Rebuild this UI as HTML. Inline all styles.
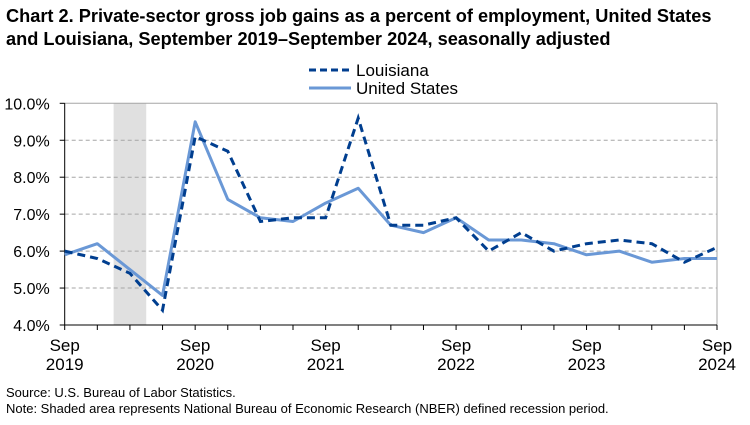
<!DOCTYPE html>
<html><head><meta charset="utf-8"><style>
body{margin:0;background:#fff;font-family:"Liberation Sans",Arial,sans-serif;}
svg text{font-family:"Liberation Sans",Arial,sans-serif;}
</style></head><body>
<svg width="750" height="420" xmlns="http://www.w3.org/2000/svg">
<text x="6" y="22" font-size="18.2" font-weight="bold">Chart 2. Private-sector gross job gains as a percent of employment, United States</text>
<text x="6" y="45" font-size="18.2" font-weight="bold">and Louisiana, September 2019–September 2024, seasonally adjusted</text>
<g>
<line x1="309" y1="70" x2="351" y2="70" stroke="#003e8f" stroke-width="3" stroke-dasharray="7,4"/>
<text x="356" y="76" font-size="17">Louisiana</text>
<line x1="309" y1="88" x2="351" y2="88" stroke="#6a98d6" stroke-width="3"/>
<text x="356" y="94" font-size="17">United States</text>
</g>
<g id="plot"></g>
<text x="6" y="397" font-size="13">Source: U.S. Bureau of Labor Statistics.</text>
<text x="6" y="413" font-size="13">Note: Shaded area represents National Bureau of Economic Research (NBER) defined recession period.</text>
</svg>
<script>
const usValues=[5.9,6.2,5.5,4.8,9.5,7.4,6.9,6.8,7.3,7.7,6.7,6.5,6.9,6.3,6.3,6.2,5.9,6.0,5.7,5.8,5.8];
const laValues=[6.0,5.8,5.4,4.4,9.1,8.7,6.8,6.9,6.9,9.6,6.7,6.7,6.9,6.0,6.5,6.0,6.2,6.3,6.2,5.7,6.1];
const yTicks=[4,5,6,7,8,9,10];
const xLabels=[[0,"Sep","2019"],[4,"Sep","2020"],[8,"Sep","2021"],[12,"Sep","2022"],[16,"Sep","2023"],[20,"Sep","2024"]];
const recession=[1.5,2.5];
const L=64.7,R=717,T=103.3,B=325,ymin=4,ymax=10,n=usValues.length;
const xs=i=>L+(R-L)*i/(n-1);
const ys=v=>B-(v-ymin)/(ymax-ymin)*(B-T);
const g=document.getElementById('plot');
const NS="http://www.w3.org/2000/svg";
function mk(t,a){const e=document.createElementNS(NS,t);for(const k in a)e.setAttribute(k,a[k]);g.appendChild(e);return e;}
let r=mk('rect',{x:xs(recession[0]),y:T,width:xs(recession[1])-xs(recession[0]),height:B-T,fill:'#e0e0e0'});


yTicks.forEach(v=>{
  if(v>ymin){let l=mk('line',{x1:L,x2:R,y1:ys(v),y2:ys(v),stroke:'#a6a6a6','stroke-width':1,'stroke-dasharray':v==ymax?'none':'4,3'});
  
  }
  let t=mk('text',{x:L-15,y:ys(v)+6,'text-anchor':'end','font-size':16});t.textContent=v.toFixed(1)+'%';
  
  
  let tk=mk('line',{x1:L-5,x2:L,y1:ys(v),y2:ys(v),stroke:'#000'});
  
  
});
let rb=mk('line',{x1:R,x2:R,y1:T,y2:B,stroke:'#a6a6a6'});


for(let i=0;i<n;i++){let tk=mk('line',{x1:xs(i),x2:xs(i),y1:B,y2:B+5,stroke:'#000'});

}
xLabels.forEach(([i,a,b])=>{
  let t=mk('text',{x:xs(i),y:B+26,'text-anchor':'middle','font-size':17});t.textContent=a;
  
  
  let t2=mk('text',{x:xs(i),y:B+45,'text-anchor':'middle','font-size':17});t2.textContent=b;
  
  
});
let ya=mk('line',{x1:L,x2:L,y1:T,y2:B,stroke:'#000'});


let xa=mk('line',{x1:L,x2:R,y1:B,y2:B,stroke:'#000'});


const pts=a=>a.map((v,i)=>xs(i).toFixed(1)+','+ys(v).toFixed(1)).join(' ');
let us=mk('polyline',{points:pts(usValues),fill:'none',stroke:'#6a98d6','stroke-width':3,'stroke-linejoin':'round'});


let la=mk('polyline',{points:pts(laValues),fill:'none',stroke:'#003e8f','stroke-width':3,'stroke-dasharray':'8,5'});


</script>
</body></html>
